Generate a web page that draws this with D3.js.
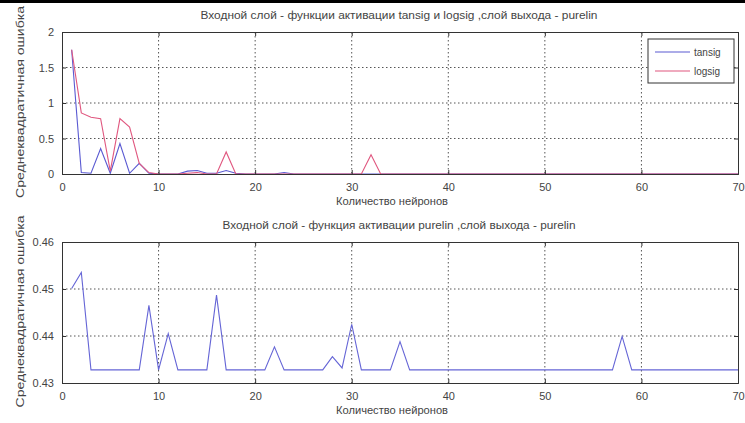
<!DOCTYPE html>
<html>
<head>
<meta charset="utf-8">
<script src="https://cdn.jsdelivr.net/npm/d3@7/dist/d3.min.js"></script>
<style>
  body { margin: 0; background: #fff; }
  svg { display: block; }
  text { font-family: "Liberation Sans", Arial, sans-serif; fill: #444; }
</style>
</head>
<body>
<div id="main"></div>
<script>
// количество нейронов 1..70
var neurons = d3.range(1, 71);

// верхний график: tansig / logsig
var tansig = [1.75, 0.02, 0.01, 0.36, 0.01, 0.43, 0.01, 0.15, 0.01, 0,
              0, 0, 0.04, 0.05, 0.01, 0.01, 0.05, 0.01, 0, 0,
              0, 0, 0.02, 0, 0, 0, 0, 0, 0, 0,
              0, 0, 0, 0, 0, 0, 0, 0, 0, 0,
              0, 0, 0, 0, 0, 0, 0, 0, 0, 0,
              0, 0, 0, 0, 0, 0, 0, 0, 0, 0,
              0, 0, 0, 0, 0, 0, 0, 0, 0, 0];
var logsig = [1.75, 0.86, 0.8, 0.78, 0.04, 0.78, 0.66, 0.15, 0.02, 0,
              0, 0, 0.01, 0.02, 0, 0, 0.31, 0, 0, 0,
              0, 0, 0, 0, 0, 0, 0, 0, 0, 0,
              0, 0.27, 0, 0, 0, 0, 0, 0, 0, 0,
              0, 0, 0, 0, 0, 0, 0, 0, 0, 0,
              0, 0, 0, 0, 0, 0, 0, 0, 0, 0,
              0, 0, 0, 0, 0, 0, 0, 0, 0, 0];

// нижний график: purelin
var purelin = [0.4501, 0.4535, 0.4328, 0.4328, 0.4328, 0.4328, 0.4328, 0.4328, 0.4465, 0.4328,
               0.4405, 0.4328, 0.4328, 0.4328, 0.4328, 0.4487, 0.4328, 0.4328, 0.4328, 0.4328,
               0.4328, 0.4377, 0.4328, 0.4328, 0.4328, 0.4328, 0.4328, 0.4356, 0.4332, 0.4425,
               0.4328, 0.4328, 0.4328, 0.4328, 0.4388, 0.4328, 0.4328, 0.4328, 0.4328, 0.4328,
               0.4328, 0.4328, 0.4328, 0.4328, 0.4328, 0.4328, 0.4328, 0.4328, 0.4328, 0.4328,
               0.4328, 0.4328, 0.4328, 0.4328, 0.4328, 0.4328, 0.4328, 0.4399, 0.4328, 0.4328,
               0.4328, 0.4328, 0.4328, 0.4328, 0.4328, 0.4328, 0.4328, 0.4328, 0.4328, 0.4328];

var xTicks = [0, 10, 20, 30, 40, 50, 60, 70];
var yTicksTop = [0, 0.5, 1, 1.5, 2];
var yTicksBot = [0.43, 0.44, 0.45, 0.46];

var titleTop = "Входной слой - функции активации tansig и logsig ,слой выхода - purelin";
var titleBot = "Входной слой - функция активации purelin ,слой выхода - purelin";
var xLabel = "Количество нейронов";
var yLabel = "Среднеквадратичная ошибка";

var width = 745, height = 423;
var svg = d3.select("#main").append("svg")
    .attr("width", width).attr("height", height);

svg.append("rect").attr("width", width).attr("height", height).attr("fill", "#fff");
svg.append("rect").attr("width", width).attr("height", 3).attr("fill", "#000");

function panel(top, bottom, yDomain, yTicks, yFmt, series, title, titleW) {
  var left = 62, right = 738;
  var x = d3.scaleLinear().domain([0, 70]).range([left, right]);
  var y = d3.scaleLinear().domain(yDomain).range([bottom, top]);
  var g = svg.append("g");

  // сетка
  g.selectAll(".gx").data(xTicks.slice(1, -1)).enter().append("line")
    .attr("x1", function(d){ return x(d); }).attr("x2", function(d){ return x(d); })
    .attr("y1", top).attr("y2", bottom)
    .attr("stroke", "#555").attr("stroke-dasharray", "1.5,2.5");
  g.selectAll(".gy").data(yTicks.slice(1, -1)).enter().append("line")
    .attr("x1", left).attr("x2", right)
    .attr("y1", function(d){ return y(d); }).attr("y2", function(d){ return y(d); })
    .attr("stroke", "#555").attr("stroke-dasharray", "1.5,2.5");

  // линии
  series.forEach(function(s) {
    var line = d3.line()
      .x(function(d, i){ return x(neurons[i]); })
      .y(function(d){ return y(d); });
    g.append("path").datum(s.values)
      .attr("fill", "none").attr("stroke", s.color).attr("stroke-width", 1.1)
      .attr("d", line);
  });

  // оси (риски внутрь, как в MATLAB)
  g.append("g").attr("transform", "translate(0," + bottom + ")")
    .call(d3.axisBottom(x).tickValues(xTicks).tickSize(-4).tickPadding(9).tickFormat(d3.format("d")));
  g.append("g").attr("transform", "translate(0," + top + ")")
    .call(d3.axisTop(x).tickValues(xTicks).tickSize(-4).tickFormat(""));
  g.append("g").attr("transform", "translate(" + left + ",0)")
    .call(d3.axisLeft(y).tickValues(yTicks).tickSize(-4).tickPadding(8).tickFormat(yFmt));
  g.append("g").attr("transform", "translate(" + right + ",0)")
    .call(d3.axisRight(y).tickValues(yTicks).tickSize(-4).tickFormat(""));
  g.selectAll(".domain").attr("stroke", "#333");
  g.selectAll(".tick line").attr("stroke", "#333");
  g.selectAll(".tick text").attr("font-size", 11).attr("fill", "#555")
    .attr("font-family", "Liberation Sans, Arial, sans-serif");

  g.append("text").attr("x", 399).attr("y", top - 13)
    .attr("text-anchor", "middle").attr("font-size", 10)
    .attr("textLength", titleW).attr("lengthAdjust", "spacingAndGlyphs")
    .text(title);
  g.append("text").attr("x", 392).attr("y", bottom + 31)
    .attr("text-anchor", "middle").attr("font-size", 10)
    .attr("textLength", 112).attr("lengthAdjust", "spacingAndGlyphs")
    .text(xLabel);
  g.append("text")
    .attr("transform", "translate(24," + ((top + bottom) / 2 - 1) + ") rotate(-90)")
    .attr("text-anchor", "middle").attr("font-size", 11)
    .attr("textLength", 192).attr("lengthAdjust", "spacingAndGlyphs")
    .text(yLabel);
}

var blue = "#5a5ad2", red = "#e0577f";

panel(32, 174, [0, 2], yTicksTop, function(d){ return d3.format("")(d); },
  [{values: tansig, color: blue}, {values: logsig, color: red}], titleTop, 397);

panel(242, 383, [0.43, 0.46], yTicksBot, d3.format(".2f"),
  [{values: purelin, color: "#6565d6"}], titleBot, 353);

// легенда
var names = ["tansig", "logsig"];
var colors = [blue, red];
var lg = svg.append("g");
lg.append("rect").attr("x", 648).attr("y", 39).attr("width", 86).attr("height", 44)
  .attr("fill", "#fff").attr("stroke", "#333");
names.forEach(function(n, i) {
  var yy = 52 + i * 19;
  lg.append("line").attr("x1", 655).attr("x2", 690).attr("y1", yy).attr("y2", yy)
    .attr("stroke", colors[i]).attr("stroke-width", 1.1);
  lg.append("text").attr("x", 694).attr("y", yy + 4).attr("font-size", 10).text(n);
});
</script>
</body>
</html>
